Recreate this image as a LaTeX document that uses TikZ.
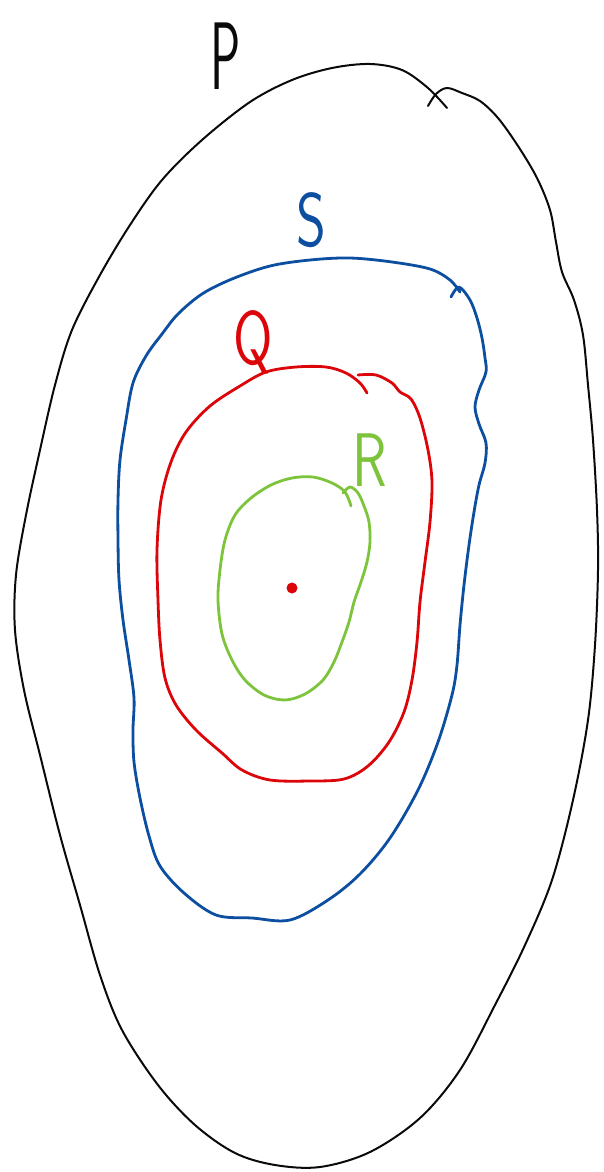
\documentclass[tikz,border=0pt]{standalone}
\usepackage{xcolor}
\usepackage{tikz}
\usetikzlibrary{calc,positioning}
\definecolor{penblack}{RGB}{10,10,10}
\definecolor{penblue}{RGB}{12,78,160}
\definecolor{penred}{RGB}{220,5,10}
\definecolor{pengreen}{RGB}{125,196,60}

\begin{document}
\begin{tikzpicture}[x=1pt,y=-1pt,
  curve/.style={draw=#1,line width=2.8pt,line cap=round,line join=round},
  letter/.style={text=#1,font=\sffamily\fontsize{76}{76}\selectfont,inner sep=0pt,xscale=0.75}]
  \useasboundingbox (0,0) rectangle (603,1172);
  % outer loop
  \draw[curve=penblack,line width=2pt] plot[smooth,tension=0.55] coordinates {
    (428,106) (436,94) (447,88) (462,93) (480,101) (498,118) (518,146) (537,178)
    (550,210) (556,242) (562,272) (574,300) (583,335) (588,385) (593,440)
    (597,510) (598,570) (595,645) (588,720) (573,800) (552,880) (525,945)
    (495,1005) (460,1070) (420,1118) (370,1152) (320,1167) (275,1165)
    (235,1153) (195,1125) (158,1085) (122,1030) (100,975) (80,905) (60,835)
    (40,755) (24,690) (15,630) (16,575) (26,515) (40,450) (55,385) (72,330)
    (100,275) (130,225) (162,180) (202,140) (250,102) (292,80) (332,68)
    (370,64) (402,70) (428,88) (447,108)};
  % S loop
  \draw[curve=penblue] plot[smooth,tension=0.55] coordinates {
    (451,297) (459,287) (470,300) (477,318) (482,338) (485,358) (486,372)
    (479,390) (475,407) (479,424) (486,443) (485,463) (479,485) (474,512)
    (469,545) (464,585) (460,625) (457,665) (452,695) (438,742) (418,790)
    (390,838) (360,874) (328,900) (290,920) (252,918) (216,915) (184,893)
    (160,866) (149,836) (140,798) (134,762) (133,730) (134,698) (129,660)
    (123,620) (119,580) (118,540) (118,500) (120,460) (126,420) (133,383)
    (146,356) (162,334) (178,314) (202,294) (232,279) (270,266) (310,260)
    (350,258) (392,262) (430,269) (450,280) (460,292)};
  % Q loop
  \draw[curve=penred] plot[smooth,tension=0.55] coordinates {
    (358,375) (376,375) (392,383) (400,392) (411,399) (420,418) (428,450)
    (432,482) (430,522) (425,562) (420,602) (417,642) (412,680) (404,712)
    (389,742) (368,766) (344,779) (310,781) (270,780) (242,770) (222,753)
    (196,730) (176,705) (165,678) (160,640) (158,600) (157,550) (161,500)
    (171,462) (186,432) (210,406) (240,386) (266,372) (296,367) (326,367)
    (346,373) (360,383) (367,393)};
  % R loop
  \draw[curve=pengreen] plot[smooth,tension=0.55] coordinates {
    (343,493) (350,487) (358,493) (364,506) (369,522) (370,542) (367,562)
    (361,582) (354,602) (349,622) (342,642) (334,662) (323,680) (305,694)
    (285,700) (264,695) (245,680) (232,660) (222,634) (218,600) (220,570)
    (225,540) (235,515) (251,498) (271,485) (292,478) (313,477) (332,483)
    (345,492) (351,506)};
  % centre point
  \fill[penred] (292,588) circle[radius=5.5pt];
  % letters
  \node[letter=penblack,font=\sffamily\fontsize{96}{96}\selectfont,xscale=0.7] (P) at (226,56) {P};
  \node[letter=penblue] (S) at (311,220) {S};
  \node[letter=penred] (Q) at (253,342) {Q};
  \node[letter=pengreen] (R) at (370,460) {R};
\end{tikzpicture}
\end{document}
